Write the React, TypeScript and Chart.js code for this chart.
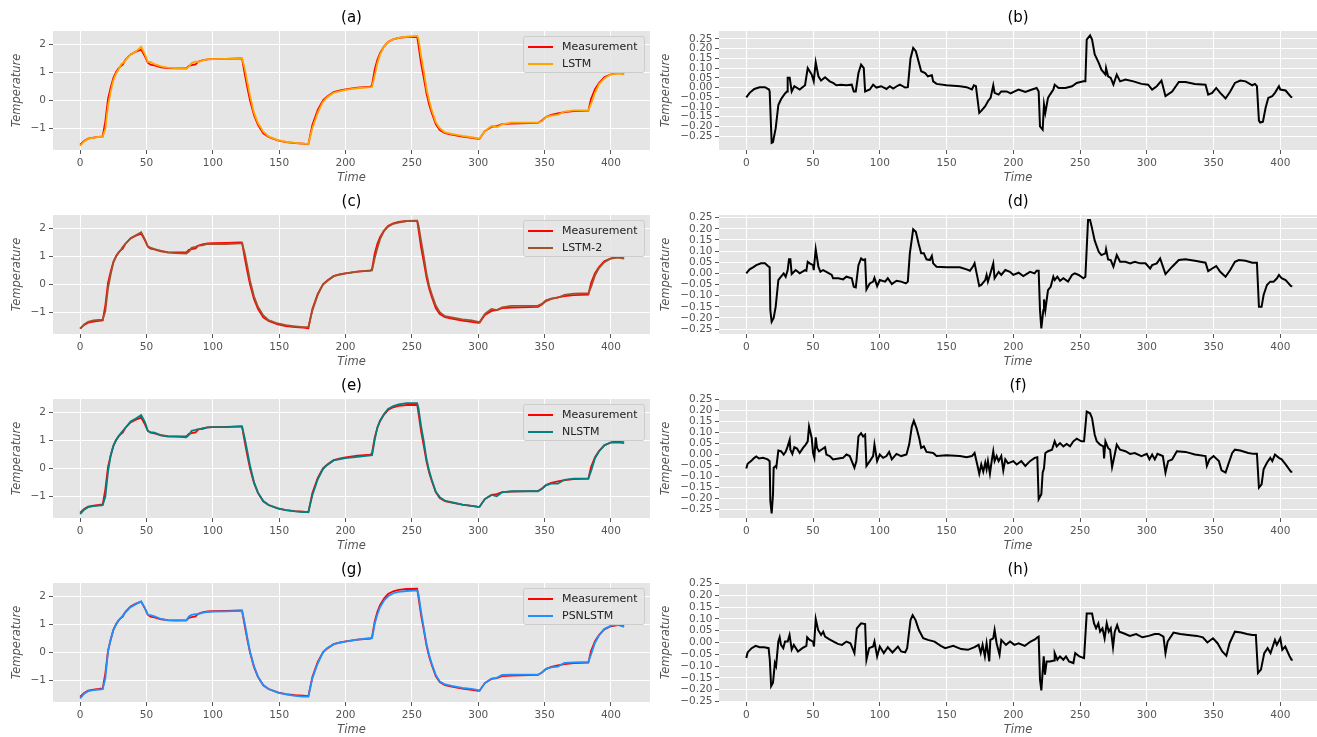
import React, { useEffect, useRef } from "react";
import { Chart, registerables } from "chart.js";

Chart.register(...registerables);

const FONT = "'DejaVu Sans', Verdana, sans-serif";
const TICK_COLOR = "#555555";
const PANEL_BG = "#E5E5E5";

// ---------- tick labels ----------
const timeTicks = [0, 50, 100, 150, 200, 250, 300, 350, 400];
const tempTicks = [-1, 0, 1, 2];
const errTicks = [-0.25, -0.2, -0.15, -0.1, -0.05, 0, 0.05, 0.1, 0.15, 0.2, 0.25];

// ---------- measurement & predictions (shared time grid) ----------
const measT = [
  0, 3, 6, 10, 14, 17, 19, 21, 23, 25,
  27, 29, 31, 32, 34, 38, 42, 46, 49, 51,
  53, 56, 61, 66, 72, 80, 82, 84, 87, 89,
  92, 96, 100, 110, 121, 122, 124, 126, 128, 131,
  134, 138, 142, 149, 155, 162, 168, 172, 175, 179,
  183, 186, 191, 196, 200, 209, 219, 220, 222, 224,
  226, 229, 232, 236, 240, 246, 254, 255, 257, 259,
  261, 263, 265, 268, 271, 275, 280, 288, 295, 300,
  301, 305, 310, 314, 318, 325, 345, 348, 351, 355,
  360, 365, 372, 383, 385, 388, 391, 395, 400, 405,
  410,
];
const measV = [
  -1.58, -1.45, -1.37, -1.33, -1.31, -1.29, -0.75, 0.05, 0.45, 0.79,
  1.0, 1.14, 1.24, 1.27, 1.44, 1.64, 1.74, 1.81, 1.55, 1.34,
  1.27, 1.25, 1.18, 1.15, 1.14, 1.14, 1.23, 1.26, 1.28, 1.38,
  1.43, 1.46, 1.47, 1.48, 1.5, 1.49, 0.95, 0.45, 0.0, -0.52,
  -0.88, -1.18, -1.31, -1.43, -1.49, -1.53, -1.55, -1.57, -0.88, -0.35,
  0.0, 0.13, 0.29, 0.35, 0.39, 0.45, 0.49, 0.55, 1.1, 1.45,
  1.68, 1.92, 2.08, 2.18, 2.23, 2.26, 2.27, 1.95, 1.3, 0.79,
  0.25, -0.15, -0.45, -0.85, -1.06, -1.17, -1.23, -1.3, -1.34, -1.38,
  -1.37, -1.1, -0.95, -0.92, -0.85, -0.83, -0.81, -0.72, -0.6, -0.52,
  -0.47, -0.42, -0.39, -0.37, 0.05, 0.4, 0.62, 0.82, 0.93, 0.97,
  0.98,
];
const lstmV = [
  -1.63, -1.47, -1.38, -1.33, -1.31, -1.3, -1.03, -0.2, 0.3, 0.71,
  0.95, 1.11, 1.29, 1.32, 1.42, 1.64, 1.74, 1.91, 1.62, 1.37,
  1.37, 1.29, 1.21, 1.17, 1.15, 1.12, 1.21, 1.33, 1.39, 1.36,
  1.42, 1.47, 1.47, 1.48, 1.5, 1.5, 1.15, 0.65, 0.17, -0.44,
  -0.81, -1.12, -1.29, -1.42, -1.48, -1.52, -1.55, -1.56, -1.0, -0.45,
  -0.05, 0.1, 0.27, 0.33, 0.37, 0.43, 0.47, 0.48, 0.88, 1.32,
  1.63, 1.91, 2.08, 2.18, 2.23, 2.27, 2.3, 2.2, 1.57, 1.04,
  0.42, -0.01, -0.35, -0.78, -1.0, -1.15, -1.2, -1.27, -1.32, -1.36,
  -1.36, -1.1, -0.92, -0.96, -0.86, -0.8, -0.8, -0.75, -0.6, -0.55,
  -0.52, -0.4, -0.36, -0.36, -0.13, 0.27, 0.57, 0.78, 0.93, 0.95,
  0.93,
];
const lstm2V = [
  -1.58, -1.43, -1.34, -1.29, -1.27, -1.26, -0.96, -0.14, 0.35, 0.77,
  0.99, 1.13, 1.25, 1.33, 1.44, 1.65, 1.75, 1.86, 1.59, 1.36,
  1.31, 1.26, 1.19, 1.13, 1.11, 1.1, 1.17, 1.3, 1.34, 1.38,
  1.39, 1.44, 1.44, 1.44, 1.46, 1.47, 1.12, 0.64, 0.14, -0.43,
  -0.8, -1.11, -1.28, -1.4, -1.46, -1.5, -1.53, -1.53, -0.94, -0.38,
  -0.01, 0.11, 0.29, 0.36, 0.39, 0.45, 0.5, 0.5, 0.94, 1.29,
  1.61, 1.9, 2.06, 2.16, 2.2, 2.26, 2.26, 2.1, 1.54, 0.99,
  0.4, -0.05, -0.36, -0.76, -1.0, -1.14, -1.18, -1.25, -1.29, -1.34,
  -1.35, -1.06, -0.88, -0.92, -0.82, -0.77, -0.76, -0.7, -0.57, -0.51,
  -0.48, -0.38, -0.33, -0.32, -0.1, 0.32, 0.58, 0.79, 0.92, 0.95,
  0.92,
];
const nlstmV = [
  -1.64, -1.48, -1.39, -1.35, -1.33, -1.32, -1.02, -0.13, 0.46, 0.8,
  1.0, 1.15, 1.28, 1.33, 1.44, 1.67, 1.78, 1.9, 1.63, 1.33,
  1.29, 1.27, 1.18, 1.13, 1.13, 1.11, 1.19, 1.34, 1.37, 1.4,
  1.4, 1.46, 1.47, 1.47, 1.5, 1.5, 1.08, 0.6, 0.1, -0.49,
  -0.87, -1.17, -1.31, -1.43, -1.49, -1.54, -1.56, -1.56, -0.96, -0.4,
  -0.03, 0.11, 0.28, 0.33, 0.36, 0.41, 0.46, 0.47, 1.02, 1.46,
  1.7, 1.94, 2.12, 2.22, 2.28, 2.33, 2.33, 2.15, 1.49, 0.96,
  0.34, -0.09, -0.41, -0.84, -1.03, -1.16, -1.21, -1.3, -1.34, -1.38,
  -1.37, -1.1, -0.95, -1.0, -0.86, -0.82, -0.82, -0.74, -0.61, -0.55,
  -0.55, -0.41, -0.37, -0.37, -0.1, 0.36, 0.6, 0.82, 0.92, 0.93,
  0.9,
];
const psnlstmV = [
  -1.65, -1.48, -1.39, -1.35, -1.33, -1.32, -0.93, 0.03, 0.45, 0.8,
  0.98, 1.14, 1.25, 1.3, 1.42, 1.61, 1.72, 1.82, 1.56, 1.34,
  1.33, 1.28, 1.19, 1.14, 1.13, 1.14, 1.28, 1.34, 1.36, 1.36,
  1.41, 1.44, 1.45, 1.46, 1.48, 1.49, 1.05, 0.52, 0.02, -0.5,
  -0.87, -1.17, -1.31, -1.44, -1.5, -1.56, -1.58, -1.58, -0.93, -0.4,
  0.0, 0.15, 0.28, 0.35, 0.38, 0.45, 0.51, 0.51, 1.02, 1.36,
  1.61, 1.85, 2.0, 2.11, 2.16, 2.19, 2.21, 2.07, 1.43, 0.86,
  0.31, -0.1, -0.41, -0.81, -1.04, -1.15, -1.2, -1.27, -1.31, -1.35,
  -1.37, -1.1, -0.94, -0.91, -0.81, -0.8, -0.8, -0.72, -0.59, -0.54,
  -0.51, -0.38, -0.36, -0.34, -0.08, 0.34, 0.6, 0.83, 0.95, 0.98,
  0.91,
];

// ---------- prediction errors [time, value] ----------
type Pt = [number, number];
const errLstm: Pt[] = [
  [0,-0.05],[2.5,-0.027],[6,-0.007],[10,0.002],[14,0.002],[17,-0.01],[17.5,-0.02],[19,-0.284],[20,-0.28],[22,-0.21],
  [24,-0.09],[26,-0.06],[29,-0.03],[30.5,-0.02],[31,0.05],[32.5,0.05],[34,-0.02],[36,0.007],[40,-0.01],[44,0.012],
  [46,0.1],[49,0.067],[50.5,0.032],[52,0.13],[54,0.058],[56,0.036],[59,0.053],[62.5,0.032],[65,0.024],[67.5,0.012],
  [71,0.015],[75,0.012],[79,0.015],[80.5,-0.02],[82,-0.02],[84,0.075],[86,0.118],[88,0.1],[89,-0.02],[92.5,-0.01],
  [95,0.015],[97.5,0],[101,0.007],[105,-0.007],[107.5,0.007],[110,-0.005],[113,0.008],[115,0.015],[119,0],[121,0.002],
  [123,0.15],[125,0.204],[127,0.187],[129,0.135],[131,0.084],[134,0.075],[136,0.058],[139,0.063],[140,0.032],[142.5,0.019],
  [150,0.012],[160,0.007],[165,0.002],[169,-0.01],[170.5,0.012],[172,0.007],[174.5,-0.13],[176,-0.12],[179,-0.096],[181,-0.07],
  [183,-0.053],[185,0.012],[186,-0.027],[189,-0.036],[191,-0.02],[195,-0.02],[198,-0.03],[201,-0.02],[204,-0.01],[209,-0.022],
  [214,-0.01],[217.5,-0.002],[219,-0.02],[220,-0.2],[222,-0.216],[223,-0.087],[224,-0.13],[226,-0.053],[227.5,-0.036],[230,-0.01],
  [231,0.015],[234,-0.002],[239,-0.002],[244,0.007],[247.5,0.024],[252.5,0.032],[254,0.032],[255,0.247],[257.5,0.269],[259,0.247],
  [261,0.17],[264,0.127],[266,0.092],[269,0.067],[269.5,0.1],[271,0.058],[273,0.05],[275,0.015],[277.5,0.067],[280,0.032],
  [284,0.041],[290,0.032],[296,0.019],[301,0.015],[304,-0.01],[307.5,0.007],[311,0.036],[314,-0.044],[319,-0.02],[324,0.029],
  [329,0.029],[336,0.019],[344,0.015],[346,-0.036],[349,-0.027],[352,-0.002],[355,-0.027],[359,-0.056],[362.5,-0.02],[366,0.024],
  [370,0.036],[374,0.032],[379,0.012],[381,0.019],[382.5,0.007],[384,-0.17],[385,-0.18],[387,-0.176],[389,-0.104],[391,-0.053],
  [394,-0.044],[396,-0.027],[399,0.007],[400,-0.01],[404,-0.015],[408,-0.048],[409,-0.05],
];
const errLstm2: Pt[] = [
  [0,0],[2.5,0.018],[5,0.027],[7.5,0.037],[11,0.045],[14,0.045],[16,0.034],[17.5,0.027],[18,-0.165],[19,-0.217],
  [20.5,-0.2],[22,-0.15],[24,-0.03],[26,-0.015],[28,0],[29.5,-0.015],[31,0.015],[32,0.063],[33,0.063],[34,-0.003],
  [37,0.015],[40,0],[44,0.015],[45,0.012],[46,0.052],[47.5,0.045],[50,0.037],[50.5,0.015],[52,0.108],[54,0.03],
  [55.5,0.007],[57.5,0.015],[60,0.007],[64,-0.007],[65,-0.022],[69,-0.022],[72.5,-0.027],[75,-0.015],[79,-0.022],[80.5,-0.06],
  [82,-0.063],[84,0.037],[86,0.067],[87.5,0.06],[89,0.063],[90,-0.072],[92.5,-0.045],[95,-0.037],[96,-0.02],[98,-0.057],
  [100,-0.03],[104,-0.037],[106,-0.022],[109,-0.048],[112.5,-0.033],[116,-0.037],[119.5,-0.045],[121,-0.037],[122.5,0.09],[125,0.198],
  [127,0.187],[129,0.135],[131,0.09],[133,0.09],[135,0.063],[137.5,0.06],[139,0.078],[140,0.045],[142.5,0.03],[150,0.027],
  [160,0.027],[165,0.018],[167.5,0.012],[170,0.033],[171,0.045],[174.5,-0.057],[176,-0.052],[179,-0.03],[180,-0.007],[181,-0.037],
  [182.5,-0.007],[185,0.045],[186,-0.022],[189,0.007],[191,-0.007],[194,0.015],[197.5,0.007],[200,-0.007],[204,0.003],[207.5,-0.012],
  [212.5,0.007],[216,0],[217.5,0.012],[219,0.012],[220,-0.165],[221,-0.247],[222.5,-0.165],[223,-0.117],[224,-0.165],[226,-0.075],
  [228,-0.06],[230,-0.015],[231,-0.03],[233,-0.015],[235,-0.033],[237.5,-0.022],[241,-0.037],[244,-0.007],[246,0],[249,-0.007],
  [252.5,-0.022],[254,-0.015],[256,0.24],[257.5,0.24],[259,0.202],[261,0.147],[264,0.097],[266,0.082],[269,0.09],[269.5,0.108],
  [271,0.063],[273,0.06],[275,0.03],[277.5,0.082],[280,0.052],[284,0.052],[287.5,0.045],[291,0.052],[295,0.045],[299,0.045],
  [302.5,0.022],[304,0.037],[307.5,0.045],[310,0.067],[314,-0.003],[319,0.03],[324,0.06],[329,0.063],[336,0.057],[344,0.048],
  [346,0.01],[349,0.022],[352,0.033],[355,0.007],[359,-0.015],[362.5,0.015],[366,0.052],[369,0.06],[374,0.057],[379,0.048],
  [382.5,0.048],[384,-0.15],[386,-0.15],[387.5,-0.097],[390,-0.052],[392.5,-0.037],[395,-0.037],[397.5,-0.022],[399,-0.007],[401,-0.022],
  [404,-0.03],[408,-0.057],[409,-0.058],
];
const errNlstm: Pt[] = [
  [0,-0.063],[1,-0.042],[4,-0.027],[6,-0.015],[7.5,-0.009],[9.5,-0.018],[12.5,-0.015],[16,-0.022],[17.5,-0.03],[18,-0.21],
  [19,-0.267],[20,-0.18],[20.5,-0.06],[22,-0.052],[22.5,-0.057],[24,0.018],[26,0.015],[28,0],[29.5,0.012],[31,0.037],
  [32.5,0.067],[33,0.022],[34.5,0.003],[36,0.033],[38,0.027],[40,0.007],[42.5,0.03],[44.5,0.045],[46,0.06],[47,0.127],
  [49,0.075],[50,0.007],[51,-0.015],[52,0.078],[53,0.03],[54.5,0.015],[57,0.025],[59,0.033],[60,0],[62.5,-0.007],
  [65,-0.022],[69,-0.018],[72.5,-0.015],[75,0],[77.5,-0.007],[80,-0.045],[81,-0.06],[82.5,-0.03],[84,0.082],[86,0.097],
  [87.5,0.082],[89,0.09],[90,-0.052],[92.5,-0.03],[95,-0.007],[96,0.045],[98,-0.03],[100,0],[102.5,-0.015],[105,-0.007],
  [107,0.012],[109,-0.022],[112.5,0.003],[116,-0.007],[120,0],[122,0.045],[124,0.127],[125.5,0.153],[127.5,0.12],[129.5,0.075],
  [131,0.03],[133,0.037],[135,0.012],[140,0.007],[142.5,-0.007],[150,-0.003],[160,-0.007],[165,-0.012],[169,-0.007],[171,0.007],
  [173,-0.045],[174.5,-0.087],[176,-0.045],[177.5,-0.078],[179,-0.037],[180,-0.067],[181,-0.03],[182.5,-0.087],[184,-0.022],[185,0.015],
  [186,-0.03],[187.5,-0.007],[189,-0.03],[191,-0.007],[192.5,-0.072],[194,-0.022],[196,-0.04],[200,-0.03],[202.5,-0.045],[206,-0.03],
  [209,-0.052],[212.5,-0.03],[216,-0.015],[218,-0.012],[219,-0.203],[221,-0.18],[222,-0.082],[223,-0.063],[224,0.007],[226,0.015],
  [229,0.022],[231,0.06],[232.5,0.037],[235,0.052],[237.5,0.037],[240,0.048],[242.5,0.037],[245,0.06],[247.5,0.072],[251,0.06],
  [253,0.06],[255,0.195],[257.5,0.187],[259,0.165],[261,0.09],[262.5,0.06],[265,0.045],[267.5,0.037],[268,-0.018],[269,0.06],
  [271,0.03],[272.5,0.022],[274,-0.057],[276,0],[277.5,0.045],[280,0.022],[284,0.015],[287.5,0.003],[291,0.007],[296,-0.007],
  [300,0.003],[302,-0.022],[304,0],[306,-0.022],[308,0.003],[312,-0.007],[314,-0.082],[316,-0.03],[319,-0.022],[322.5,0.015],
  [329,0.012],[336,0],[344,-0.007],[345,-0.052],[347,-0.022],[350,-0.007],[354,-0.03],[356,-0.072],[359,-0.082],[361,-0.045],
  [364,0.007],[366,0.022],[370,0.018],[376,0.007],[380,0.003],[382.5,0.003],[384,-0.15],[386,-0.135],[387.5,-0.067],[390,-0.037],
  [392.5,-0.015],[394,-0.03],[396,0],[399,-0.015],[401,-0.022],[404,-0.045],[408,-0.078],[409,-0.078],
];
const errPsnlstm: Pt[] = [
  [0,-0.066],[1,-0.042],[4,-0.024],[7,-0.014],[10,-0.02],[13.5,-0.02],[16.7,-0.024],[17.6,-0.073],[18.6,-0.185],[20,-0.17],
  [21.4,-0.087],[22.3,-0.1],[24,0.004],[25,0.022],[26,-0.01],[27.7,-0.024],[29,0.004],[31,0.004],[32.4,0.032],[34,-0.03],
  [35.6,-0.01],[38.7,-0.038],[42,-0.024],[45,-0.014],[45.6,0.022],[47.5,0.011],[50,0.004],[50.7,-0.017],[52,0.1],[53.8,0.053],
  [56,0.032],[57.6,0.046],[59,0.025],[62,0.014],[65.4,0.004],[68.6,-0.006],[71.7,-0.01],[75,0.004],[78,-0.003],[81,-0.045],
  [82.8,0.06],[86,0.081],[89,0.078],[90,-0.073],[92,-0.024],[95,-0.017],[96,0.004],[98,-0.059],[100,-0.017],[103,-0.045],
  [106,-0.02],[109.5,-0.042],[113.6,-0.017],[116,-0.038],[119,-0.042],[120.5,-0.024],[123,0.095],[124.6,0.116],[126.8,0.095],[129.3,0.053],
  [132.5,0.018],[136,0.011],[141,0.004],[145.7,-0.014],[149,-0.024],[155,-0.014],[161,-0.028],[166,-0.031],[171,-0.02],[174,-0.01],
  [175.6,-0.045],[177,-0.01],[178.7,-0.059],[180,-0.003],[182,-0.08],[182.8,0.011],[185,0.018],[186,0.053],[187.5,-0.003],[189.7,-0.052],
  [191,0.011],[194.5,-0.01],[197.6,0.004],[200.8,-0.01],[204,-0.003],[208.6,-0.014],[213,0.004],[216.5,0.014],[218,0.022],[219,0.025],
  [220,-0.157],[221,-0.203],[222.8,-0.059],[223.7,-0.136],[225,-0.08],[227.5,-0.08],[230.6,-0.076],[231,-0.045],[233,-0.073],[235,-0.059],
  [237.5,-0.073],[239.5,-0.059],[241.7,-0.08],[245,-0.087],[246.4,-0.045],[249.5,-0.059],[253,-0.066],[255,0.123],[259,0.123],[260.5,0.081],
  [262,0.06],[263.7,0.081],[265,0.046],[266.8,0.06],[268.4,0.018],[270,0.081],[271.5,0.046],[273,0.06],[274.7,-0.02],[276,0.046],
  [277.8,0.074],[279.4,0.046],[282.6,0.039],[287.3,0.028],[292,0.036],[296.7,0.022],[301.5,0.028],[306,0.036],[309,0.036],[312.5,0.025],
  [314,-0.045],[315.6,0.004],[320,0.042],[325,0.036],[331,0.032],[337.6,0.028],[342,0.022],[345.4,0],[349.6,0.018],[353,-0.003],
  [356.5,-0.038],[359.6,-0.056],[362,-0.003],[366,0.046],[370.7,0.042],[375,0.036],[379,0.032],[381.7,0.032],[383.3,-0.129],[385.5,-0.115],
  [388,-0.045],[390.5,-0.024],[392.7,-0.045],[396,0.011],[397.4,-0.01],[400,0.018],[401.5,-0.031],[403.7,-0.017],[406.8,-0.056],[408.4,-0.073],
  [409.3,-0.073],
];

// ---------- panel layout ----------
interface Spec {
  title: string;
  row: number;
  col: number;
  predLabel?: string;
  predColor?: string;
  pred?: number[];
  err?: Pt[];
  yMin: number;
  yMax: number;
}

const specs: Spec[] = [
  { title: "(a)", row: 0, col: 0, predLabel: "LSTM", predColor: "#FFA500", pred: lstmV, yMin: -1.775, yMax: 2.475 },
  { title: "(b)", row: 0, col: 1, err: errLstm, yMin: -0.321, yMax: 0.291 },
  { title: "(c)", row: 1, col: 0, predLabel: "LSTM-2", predColor: "#A0522D", pred: lstm2V, yMin: -1.775, yMax: 2.475 },
  { title: "(d)", row: 1, col: 1, err: errLstm2, yMin: -0.272, yMax: 0.262 },
  { title: "(e)", row: 2, col: 0, predLabel: "NLSTM", predColor: "#008080", pred: nlstmV, yMin: -1.775, yMax: 2.475 },
  { title: "(f)", row: 2, col: 1, err: errNlstm, yMin: -0.288, yMax: 0.252 },
  { title: "(g)", row: 3, col: 0, predLabel: "PSNLSTM", predColor: "#1E90FF", pred: psnlstmV, yMin: -1.775, yMax: 2.475 },
  { title: "(h)", row: 3, col: 1, err: errPsnlstm, yMin: -0.252, yMax: 0.252 },
];

const ROW_H = 184;

const bgPlugin = {
  id: "panelBg",
  beforeDraw(chart: any) {
    const { ctx, chartArea: a } = chart;
    ctx.save();
    ctx.fillStyle = PANEL_BG;
    ctx.fillRect(a.left, a.top, a.right - a.left, a.bottom - a.top);
    ctx.restore();
  },
};

const fmtMinus = (s: string) => s.replace("-", "\u2212");

function Panel({ spec }: { spec: Spec }) {
  const ref = useRef<HTMLCanvasElement>(null);
  const isErr = !!spec.err;
  const left = spec.col === 0 ? 0 : 660;
  const width = spec.col === 0 ? 660 : 657;
  const top = spec.row * ROW_H;

  useEffect(() => {
    const canvas = ref.current;
    if (!canvas) return;
    const datasets: any[] = isErr
      ? [
          {
            label: "Error",
            data: spec.err!.map(([x, y]) => ({ x, y })),
            borderColor: "#000000",
            borderWidth: 2,
            pointRadius: 0,
            tension: 0,
            fill: false,
          },
        ]
      : [
          {
            label: "Measurement",
            data: measT.map((x, i) => ({ x, y: measV[i] })),
            borderColor: "#FF0000",
            borderWidth: 1.8,
            pointRadius: 0,
            tension: 0,
            fill: false,
            order: 1,
          },
          {
            label: spec.predLabel,
            data: measT.map((x, i) => ({ x, y: spec.pred![i] })),
            borderColor: spec.predColor,
            borderWidth: 1.8,
            pointRadius: 0,
            tension: 0,
            fill: false,
            order: 0,
          },
        ];

    const yTicks = isErr ? errTicks : tempTicks;
    const chart = new Chart(canvas, {
      type: "line",
      data: { datasets },
      options: {
        animation: false,
        responsive: false,
        devicePixelRatio: 1,
        events: [],
        layout: { padding: { left: 0, right: spec.col === 0 ? 10 : 0, top: 0, bottom: 0 } },
        plugins: {
          legend: { display: false },
          tooltip: { enabled: false },
          title: {
            display: true,
            text: spec.title,
            fullSize: false,
            color: "#000000",
            font: { family: FONT, size: 15, weight: "normal", lineHeight: 1.2 },
            padding: { top: 9, bottom: 4 },
          },
        },
        scales: {
          x: {
            type: "linear",
            min: -20.45,
            max: spec.col === 0 ? 429.45 : 427.5,
            afterBuildTicks: (axis: any) => {
              axis.ticks = timeTicks.map((v) => ({ value: v }));
            },
            afterFit: (axis: any) => {
              axis.height = 34;
            },
            border: { display: false },
            grid: { color: "#FFFFFF", lineWidth: 1, tickColor: TICK_COLOR, tickLength: 4 },
            ticks: {
              color: TICK_COLOR,
              font: { family: FONT, size: 10.5 },
              padding: 3,
              autoSkip: false,
              maxRotation: 0,
              callback: (v: any) => String(v),
            },
            title: {
              display: true,
              text: "Time",
              color: TICK_COLOR,
              font: { family: FONT, size: 11.5, style: "italic", lineHeight: 1 },
              padding: { top: 0, bottom: 0 },
            },
          },
          y: {
            type: "linear",
            min: spec.yMin,
            max: spec.yMax,
            afterBuildTicks: (axis: any) => {
              axis.ticks = yTicks.map((v) => ({ value: v }));
            },
            afterFit: (axis: any) => {
              axis.width = spec.col === 0 ? 53 : 59;
            },
            border: { display: false },
            grid: { color: "#FFFFFF", lineWidth: 1, tickColor: TICK_COLOR, tickLength: 4 },
            ticks: {
              color: TICK_COLOR,
              font: { family: FONT, size: 10.5 },
              padding: isErr ? 2.5 : 3,
              autoSkip: false,
              callback: (v: any) => fmtMinus(isErr ? Number(v).toFixed(2) : String(Math.round(Number(v)))),
            },
            title: {
              display: true,
              text: "Temperature",
              color: TICK_COLOR,
              font: { family: FONT, size: 11.5, style: "italic", lineHeight: 1 },
              padding: { top: spec.col === 0 ? 11 : 0, bottom: 0 },
            },
          },
        },
      },
      plugins: [bgPlugin],
    } as any);
    return () => chart.destroy();
  }, []);

  return (
    <canvas
      ref={ref}
      width={width}
      height={ROW_H}
      style={{ position: "absolute", left, top, width, height: ROW_H }}
    />
  );
}

function Legend({ row, label, color }: { row: number; label: string; color: string }) {
  const items: [string, string][] = [
    ["Measurement", "#FF0000"],
    [label, color],
  ];
  return (
    <div
      style={{
        position: "absolute",
        left: 523,
        top: 36 + row * ROW_H,
        width: 122,
        height: 37,
        boxSizing: "border-box",
        background: "rgba(229,229,229,0.85)",
        border: "1px solid #CCCCCC",
        borderRadius: 3,
        fontFamily: FONT,
        fontSize: 11,
        color: "#222222",
      }}
    >
      {items.map(([l, c], i) => (
        <div
          key={l}
          style={{
            position: "absolute",
            left: 4,
            top: 1 + i * 17,
            height: 17,
            display: "flex",
            alignItems: "center",
            whiteSpace: "nowrap",
          }}
        >
          <span style={{ display: "inline-block", width: 25, height: 2, background: c, marginRight: 9 }} />
          <span>{l}</span>
        </div>
      ))}
    </div>
  );
}

export default function App() {
  return (
    <div
      style={{
        position: "fixed",
        left: 0,
        top: 0,
        width: 1317,
        height: 737,
        background: "#FFFFFF",
        overflow: "hidden",
      }}
    >
      {specs.map((s) => (
        <Panel key={s.title} spec={s} />
      ))}
      {specs
        .filter((s) => !s.err)
        .map((s) => (
          <Legend key={"lg" + s.title} row={s.row} label={s.predLabel!} color={s.predColor!} />
        ))}
    </div>
  );
}
